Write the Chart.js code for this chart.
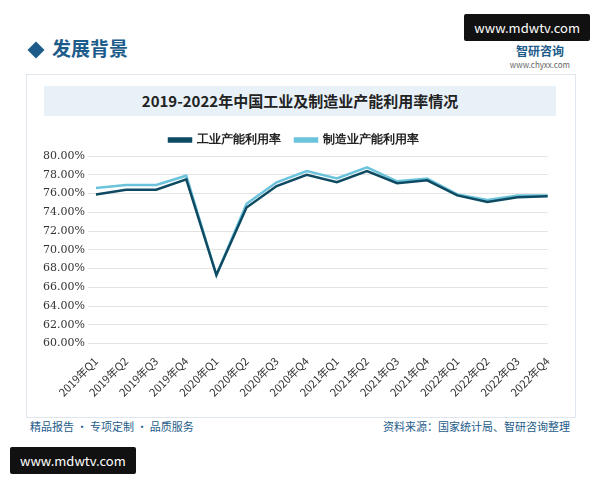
<!DOCTYPE html>
<html><head><meta charset="utf-8">
<script src="https://cdn.jsdelivr.net/npm/chart.js@4"></script>
<style>
body{margin:0;width:600px;height:480px;background:#fff;font-family:"Noto Sans CJK SC",sans-serif;position:relative;overflow:hidden}
.hd{position:absolute;left:30px;top:34px;font-size:19px;color:#1d5c8a;font-weight:bold}
.hd:before{content:"";display:inline-block;width:12px;height:12px;background:#1d5c8a;transform:rotate(45deg);margin-right:10px}
.logo{position:absolute;right:30px;top:42px;font-size:12px;color:#1d5c8a;font-weight:bold;text-align:center}
.logo small{display:block;font-size:8px;color:#666;font-weight:normal}
.mark{position:absolute;background:#111;color:#fff;font-size:13px;padding:4px 10px;border-radius:2px}
.frame{position:absolute;left:26px;top:74px;width:548px;height:342px;border:1px solid #e0e6ee}
.title{position:absolute;left:44px;top:86px;width:512px;height:30px;background:#e8f1f8;text-align:center;line-height:30px;font-size:15px;font-weight:bold;color:#222;font-family:"Noto Sans CJK SC",serif}
.ft{position:absolute;top:418px;font-size:11px;color:#1d5c8a}
#wrap{position:absolute;left:40px;top:120px;width:520px;height:282px}
</style></head><body>
<div class="mark" style="right:10px;top:14px">www.mdwtv.com</div>
<div class="hd">发展背景</div>
<div class="logo">智研咨询<small>www.chyxx.com</small></div>
<div class="frame"></div>
<div class="title">2019-2022年中国工业及制造业产能利用率情况</div>
<div id="wrap"><canvas id="c"></canvas></div>
<div class="ft" style="left:30px">精品报告 · 专项定制 · 品质服务</div>
<div class="ft" style="right:30px">资料来源：国家统计局、智研咨询整理</div>
<div class="mark" style="left:10px;top:447px">www.mdwtv.com</div>
<script>
const labels = ['2019年Q1','2019年Q2','2019年Q3','2019年Q4','2020年Q1','2020年Q2','2020年Q3','2020年Q4','2021年Q1','2021年Q2','2021年Q3','2021年Q4','2022年Q1','2022年Q2','2022年Q3','2022年Q4'];
const industry = [75.9,76.4,76.4,77.5,67.3,74.5,76.8,78.0,77.2,78.4,77.1,77.4,75.8,75.1,75.6,75.7];
const manufacturing = [76.6,76.9,76.9,77.9,67.3,74.9,77.2,78.4,77.6,78.8,77.3,77.6,75.9,75.3,75.8,75.8];

new Chart(document.getElementById('c'), {
    type: 'line',
    data: {
        labels: labels,
        datasets: [
            {label: '工业产能利用率', data: industry, borderColor: '#0e4a62', backgroundColor: '#0e4a62', borderWidth: 2.5, pointRadius: 0, tension: 0, order: 1},
            {label: '制造业产能利用率', data: manufacturing, borderColor: '#6cc3dc', backgroundColor: '#6cc3dc', borderWidth: 2.5, pointRadius: 0, tension: 0, order: 2}
        ]
    },
    options: {
        responsive: true,
        maintainAspectRatio: false,
        animation: false,
        layout: {padding: {left: 0, right: 12}},
        plugins: {
            legend: {labels: {boxWidth: 22, boxHeight: 3, color: '#222', padding: 14, font: {size: 12, weight: 'bold'}}},
            tooltip: {enabled: false}
        },
        scales: {
            y: {
                min: 60, max: 80,
                ticks: {stepSize: 2, color: '#333', font: {size: 11, family: 'DejaVu Serif'}, callback: v => v.toFixed(2) + '%'},
                grid: {color: '#e3e3e3'}, border: {display: false}
            },
            x: {
                ticks: {color: '#333', font: {size: 11, family: 'Noto Sans CJK SC'}, maxRotation: 45, minRotation: 45},
                grid: {display: false}, border: {display: false}
            }
        }
    }
});
</script>
</body></html>
